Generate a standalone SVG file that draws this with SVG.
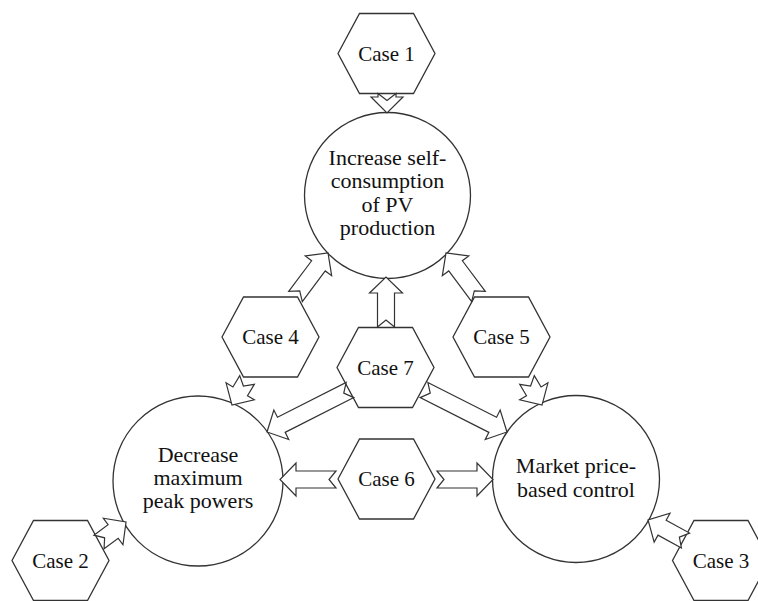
<svg xmlns="http://www.w3.org/2000/svg" width="758" height="601" viewBox="0 0 758 601">
<style>
.shape{fill:#fff;stroke:#333;stroke-width:1.3}
.arrow{fill:#fff;stroke:#333;stroke-width:1.2;stroke-linejoin:miter}
.lbl{font-family:"Liberation Serif","Times New Roman",serif;font-size:22px;fill:#111;text-anchor:middle}
.case{font-family:"Liberation Serif","Times New Roman",serif;font-size:21px;fill:#111;text-anchor:middle}
</style>
<defs>
<polygon id="hex" points="-48.5,0 -27,-40 27,-40 48.5,0 27,40 -27,40"/>
</defs>
<rect width="758" height="601" fill="#fff"/>
<g id="goal-self">
<circle class="shape" cx="387.5" cy="195.5" r="83"/>
<text class="lbl" x="387.5" y="165">Increase self-</text>
<text class="lbl" x="387.5" y="188">consumption</text>
<text class="lbl" x="387.5" y="212">of PV</text>
<text class="lbl" x="387.5" y="235">production</text>
</g>
<g id="goal-peak">
<circle class="shape" cx="198" cy="481" r="85"/>
<text class="lbl" x="198" y="462">Decrease</text>
<text class="lbl" x="198" y="485">maximum</text>
<text class="lbl" x="198" y="508">peak powers</text>
</g>
<g id="goal-market">
<circle class="shape" cx="576" cy="479" r="83.5"/>
<text class="lbl" x="576" y="473">Market price-</text>
<text class="lbl" x="576" y="497">based control</text>
</g>
<g id="case1"><use href="#hex" class="shape" x="386.5" y="53.5"/><text class="case" x="386.5" y="60.5">Case 1</text></g>
<g id="case4"><use href="#hex" class="shape" x="270.5" y="337"/><text class="case" x="270.5" y="344">Case 4</text></g>
<g id="case5"><use href="#hex" class="shape" x="501.5" y="337"/><text class="case" x="501.5" y="344">Case 5</text></g>
<g id="case7"><use href="#hex" class="shape" x="385.5" y="367.5"/><text class="case" x="385.5" y="374.5">Case 7</text></g>
<g id="case6"><use href="#hex" class="shape" x="386.5" y="479"/><text class="case" x="386.5" y="486">Case 6</text></g>
<g id="case2"><use href="#hex" class="shape" x="60.5" y="560.5"/><text class="case" x="60.5" y="567.5">Case 2</text></g>
<g id="case3"><use href="#hex" class="shape" x="721" y="560.5"/><text class="case" x="721" y="567.5">Case 3</text></g>
<g id="connectors">
<polygon class="arrow" transform="translate(387,93.5) rotate(90)" points="0,-9 3.5,-9 3.5,-16 19.5,0 3.5,16 3.5,9 0,9 7,0"/>
<polygon class="arrow" transform="translate(295.5,296.5) rotate(-53.2)" points="0,-8.5 38.3,-8.5 38.3,-16.5 54.3,0 38.3,16.5 38.3,8.5 0,8.5 7,0"/>
<polygon class="arrow" transform="translate(478.5,296.5) rotate(-126.8)" points="0,-8.5 38.3,-8.5 38.3,-16.5 54.3,0 38.3,16.5 38.3,8.5 0,8.5 7,0"/>
<polygon class="arrow" transform="translate(386,327) rotate(-90)" points="0,-8.5 34,-8.5 34,-16.5 50,0 34,16.5 34,8.5 0,8.5 7,0"/>
<polygon class="arrow" transform="translate(247,380) rotate(120.96)" points="0,-8.5 13.2,-8.5 13.2,-16.5 29.2,0 13.2,16.5 13.2,8.5 0,8.5 7,0"/>
<polygon class="arrow" transform="translate(527,380) rotate(59.04)" points="0,-8.5 13.2,-8.5 13.2,-16.5 29.2,0 13.2,16.5 13.2,8.5 0,8.5 7,0"/>
<polygon class="arrow" transform="translate(350,390) rotate(153.16)" points="0,-8.5 77,-8.5 77,-16.5 93,0 77,16.5 77,8.5 0,8.5 7,0"/>
<polygon class="arrow" transform="translate(424,390) rotate(26.84)" points="0,-8.5 77,-8.5 77,-16.5 93,0 77,16.5 77,8.5 0,8.5 7,0"/>
<polygon class="arrow" transform="translate(336,479.5) rotate(180)" points="0,-8.5 40,-8.5 40,-16.5 56,0 40,16.5 40,8.5 0,8.5 7,0"/>
<polygon class="arrow" transform="translate(437,479.5)" points="0,-8.5 40,-8.5 40,-16.5 56,0 40,16.5 40,8.5 0,8.5 7,0"/>
<polygon class="arrow" transform="translate(99,542) rotate(-36.5)" points="0,-8.5 17.6,-8.5 17.6,-16.5 33.6,0 17.6,16.5 17.6,8.5 0,8.5 7,0"/>
<polygon class="arrow" transform="translate(685.5,540.5) rotate(-151.3)" points="0,-8.5 26.7,-8.5 26.7,-16.5 42.7,0 26.7,16.5 26.7,8.5 0,8.5 7,0"/>
</g>
</svg>
